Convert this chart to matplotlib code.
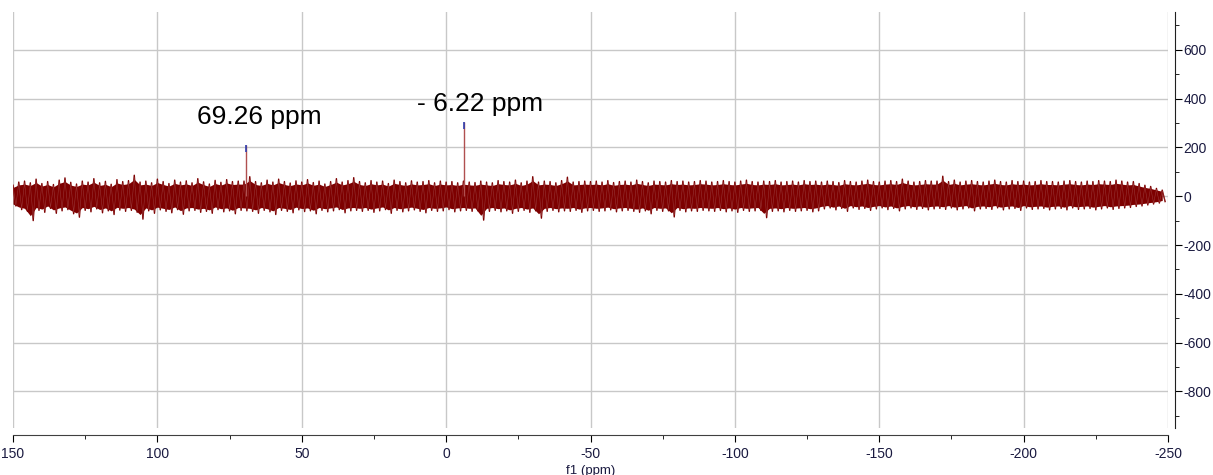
import numpy as np
import matplotlib
matplotlib.use("Agg")
import matplotlib.pyplot as plt
from matplotlib.ticker import MultipleLocator

plt.rcParams['axes.unicode_minus'] = False

# chemical shift grid of the noise envelope (2 ppm bins, 150 -> -248)
ppm = np.arange(150, -250, -2)

# upper / lower extent of the baseline noise in each bin
noise_hi = [45, 58, 62, 55, 70, 52, 60, 48, 66, 75, 57, 50, 62, 58, 72, 55, 61, 49, 68, 60,
            64, 86, 58, 62, 55, 70, 60, 52, 66, 58, 63, 55, 72, 59, 50, 65, 57, 68, 60, 62,
            62, 80, 60, 55, 66, 58, 70, 60, 54, 63, 58, 68, 56, 62, 50, 60, 72, 58, 64, 76,
            60, 55, 64, 58, 62, 52, 66, 60, 55, 63, 58, 60, 64, 55, 62, 58, 60, 55, 62, 58,
            56, 62, 58, 55, 64, 60, 58, 66, 55, 62, 80, 58, 62, 60, 55, 64, 78, 58, 60, 62,
            60, 62, 58, 64, 56, 60, 62, 58, 66, 60, 55, 62, 60, 58, 64, 60, 62, 58, 60, 64,
            62, 58, 60, 64, 60, 58, 62, 66, 60, 58, 62, 60, 64, 58, 60, 62, 58, 64, 60, 62,
            58, 62, 60, 56, 64, 60, 58, 62, 66, 60, 58, 62, 64, 60, 70, 62, 58, 60, 64, 62,
            62, 82, 60, 66, 58, 62, 64, 60, 58, 62, 66, 60, 58, 64, 60, 62, 58, 60, 64, 60,
            60, 58, 62, 64, 60, 58, 62, 60, 64, 62, 60, 66, 62, 58, 60, 52, 45, 40, 32, 25]
noise_lo = [-40, -55, -62, -100, -58, -66, -50, -70, -60, -55, -72, -86, -58, -64, -52, -68, -60, -75, -57, -62,
            -58, -66, -94, -60, -70, -56, -62, -68, -55, -74, -60, -58, -66, -62, -70, -55, -64, -60, -72, -58,
            -60, -62, -70, -58, -64, -75, -58, -62, -68, -56, -63, -60, -72, -58, -64, -60, -55, -68, -60, -58,
            -62, -58, -66, -60, -55, -70, -58, -64, -60, -56, -62, -68, -58, -62, -60, -55, -64, -60, -58, -62,
            -60, -98, -62, -58, -64, -60, -70, -62, -58, -66, -60, -90, -62, -58, -64, -60, -62, -58, -66, -60,
            -58, -62, -60, -56, -64, -60, -58, -62, -66, -60, -72, -58, -62, -60, -85, -58, -64, -60, -62, -58,
            -60, -62, -58, -64, -60, -66, -58, -62, -60, -58, -88, -62, -60, -64, -58, -62, -60, -58, -64, -60,
            -52, -48, -56, -50, -62, -48, -54, -50, -58, -52, -48, -55, -50, -60, -52, -48, -54, -50, -56, -52,
            -50, -54, -48, -56, -52, -48, -60, -52, -50, -54, -48, -56, -52, -50, -58, -48, -54, -52, -50, -56,
            -52, -50, -56, -48, -54, -52, -50, -56, -52, -48, -54, -50, -48, -46, -42, -40, -36, -32, -28, -22]

# picked peaks
peak_ppm = [69.26, -6.22]
peak_height = [210, 305]
peak_labels = ['69.26 ppm', '- 6.22 ppm']
label_pos = [(64.8, 324), (-11.8, 377)]

red = '#7d0000'

fig = plt.figure(figsize=(12.13, 4.75), dpi=100)
ax = fig.add_axes([13/1213, 47/475, 1155/1213, 416/475])

# noise band: envelope fill + zig-zag trace through it
zz_x = np.repeat(ppm, 2) + np.tile([0.0, -1.0], len(ppm))
zz_y = np.column_stack([noise_hi, noise_lo]).ravel()
ax.fill_between(ppm, np.array(noise_lo) * 0.8, np.array(noise_hi) * 0.8, color=red, lw=0, zorder=3)
ax.plot(zz_x, zz_y, color=red, lw=1.0, zorder=3.5)
ax.plot(zz_x, zz_y * 0.9, color='#a85858', lw=0.4, zorder=3.6, alpha=0.6)

ax.vlines(peak_ppm, 0, peak_height, color='#b05050', lw=1.0, zorder=4)
ax.vlines(peak_ppm, [h - 28 for h in peak_height], peak_height, color='#3040b0', lw=1.2, zorder=5)

for txt, (px, py) in zip(peak_labels, label_pos):
    ax.text(px, py, txt, ha='center', va='center', fontsize=19,
            family='Liberation Sans', color='black', zorder=6)

ax.set_xlim(150, -250)
ax.set_ylim(-950, 755)
ax.xaxis.set_major_locator(MultipleLocator(50))
ax.xaxis.set_minor_locator(MultipleLocator(25))
ax.yaxis.set_major_locator(MultipleLocator(200))
ax.yaxis.set_minor_locator(MultipleLocator(100))
ax.yaxis.tick_right()

ax.grid(True, which='major', color='#c8c8c8', lw=1.0, zorder=0)
ax.set_axisbelow(True)

for s in ['top', 'left']:
    ax.spines[s].set_visible(False)
ax.spines['bottom'].set_position(('outward', 5))
ax.spines['right'].set_position(('outward', 5))
ax.spines['bottom'].set_color('#404040')
ax.spines['right'].set_color('#202020')

ax.tick_params(axis='x', which='major', length=5, direction='out', pad=4, labelcolor='#1a1a40')
ax.tick_params(axis='x', which='minor', length=3, direction='out')
ax.tick_params(axis='y', which='major', length=5, direction='out', pad=1, labelcolor='#1a1a40')
ax.tick_params(axis='y', which='minor', length=3, direction='out')
for lab in ax.get_xticklabels() + ax.get_yticklabels():
    lab.set_fontfamily('Liberation Sans')
    lab.set_fontsize(10)

ax.set_xlabel('f1 (ppm)', fontsize=9.5, family='Liberation Sans', color='#1a1a40')
ax.xaxis.set_label_coords(0.5, -0.088)

fig.savefig('out.png', dpi=100)
